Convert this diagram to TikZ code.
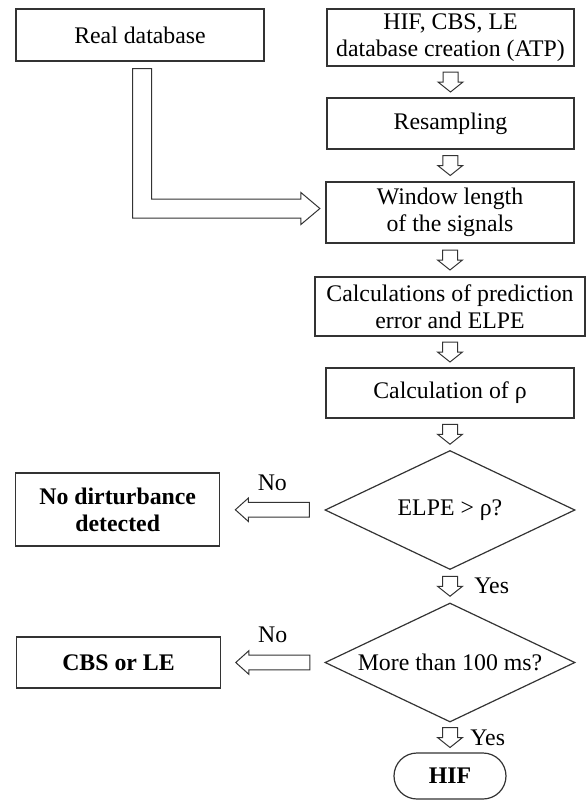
\documentclass[tikz,border=0pt]{standalone}
\usepackage{fontspec}
\setmainfont{Liberation Serif}
\usetikzlibrary{calc}
\usetikzlibrary{shapes.geometric}

\tikzset{
 box/.style={draw=black!80, line width=.6pt, rectangle, align=center, inner sep=2pt},
 decision/.style={draw=black!80, line width=.6pt, diamond, shape aspect=2.1, align=center, inner sep=0pt,
   minimum width=125pt, minimum height=59.5pt},
 terminal/.style={draw=black!80, line width=.6pt, rounded corners=11.5pt,
   minimum width=56pt, minimum height=23pt, font=\bfseries},
 blockarrow/.style={draw=black!80, line width=.5pt, fill=white},
 lbl/.style={inner sep=0pt}
}

% hollow block arrows between two nodes
\newcommand{\downblock}[2]{%
 \draw[blockarrow] ($(#1.south)!0.5!(#2.north)$) ++(-7.5,-10) -- ++(15,0) -- ++(0,10)
   -- ++(5,0) -- ++(-12.5,10) -- ++(-12.5,-10) -- ++(5,0) -- cycle;
}
\newcommand{\leftblock}[2]{%
 \draw[blockarrow] ($(#1.west)!0.5!(#2.east)$) ++(37,-7.3) -- ++(-61,0) -- ++(0,-4.4)
   -- ++(-13,11.7) -- ++(13,11.7) -- ++(0,-4.4) -- ++(61,0) -- cycle;
}

\begin{document}
\fontsize{11.9}{13.4}\selectfont
\begin{tikzpicture}[x=.5pt, y=-.5pt]
\useasboundingbox (0,0) rectangle (586,800);

% main column
\node[box, minimum width=124pt, minimum height=26pt] (real) at (140,35) {Real database};
\node[box, minimum width=123.5pt, minimum height=28.5pt] (atp) at (450.5,37.5) {HIF, CBS, LE\\database creation (ATP)};
\node[box, minimum width=123.5pt, minimum height=25.5pt] (resamp) at (450.5,123.5) {Resampling};
\node[box, minimum width=124pt, minimum height=30.5pt] (window) at (450,212.5) {Window length\\of the signals};
\node[box, minimum width=135pt, minimum height=29.5pt] (pred) at (450,306.5) {Calculations of prediction\\error and ELPE};
\node[box, minimum width=124pt, minimum height=25pt] (rho) at (450,393) {Calculation of ρ};
\node[decision] (elpe) at (450,510) {ELPE > ρ?};
\node[decision] (dur) at (450,662.5) {More than 100 ms?};
\node[terminal] (hif) at (450,776) {HIF};

% outcomes
\node[box, font=\bfseries, minimum width=102pt, minimum height=36.5pt] (nodist) at (117.7,509.5) {No dirturbance\\detected};
\node[box, font=\bfseries, minimum width=102pt, minimum height=25.5pt] (cbs) at (118.5,662.5) {CBS or LE};

% arrows
\downblock{atp}{resamp}
\downblock{resamp}{window}
\downblock{window}{pred}
\downblock{pred}{rho}
\downblock{rho}{elpe}
\downblock{elpe}{dur}
\downblock{dur}{hif}
\leftblock{elpe}{nodist}
\leftblock{dur}{cbs}

\coordinate (bend) at ($(real.south |- window.west)+(2,0)$);
\draw[blockarrow] ($(real.south)+(-7.5,7)$) -- ($(real.south)+(11.5,7)$) -- ($(bend)+(9.5,-13.5)$)
  -- ($(window.west)+(-24.5,-13.5)$) -- ($(window.west)+(-24.5,-20)$) -- ($(window.west)+(-5.5,-4)$)
  -- ($(window.west)+(-24.5,12)$) -- ($(window.west)+(-24.5,5.5)$) -- ($(bend)+(-9.5,5.5)$) -- cycle;

% labels
\node[lbl] (no1) at ($(elpe.west)!0.5!(nodist.east)+(0,-27)$) {No};
\node[lbl] (no2) at ($(dur.west)!0.5!(cbs.east)+(0,-28)$) {No};
\node[lbl, anchor=west] (yes1) at ($(elpe.south)!0.5!(dur.north)+(24,0)$) {Yes};
\node[lbl, anchor=west] (yes2) at ($(dur.south)!0.5!(hif.north)+(20,0)$) {Yes};
\end{tikzpicture}
\end{document}
